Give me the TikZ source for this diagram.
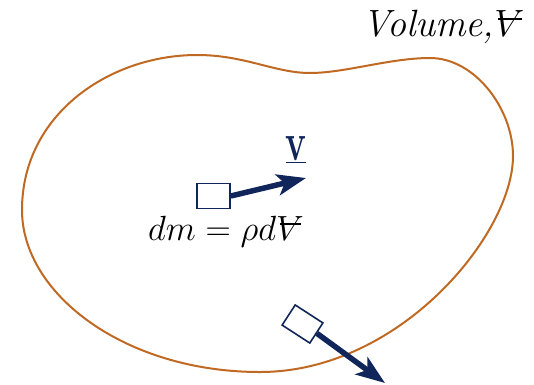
\RequirePackage{fix-cm}
\documentclass[tikz,border=0pt]{standalone}
\usepackage{fontspec}
\usetikzlibrary{arrows.meta}
\definecolor{outl}{RGB}{192,105,35}
\definecolor{navy}{RGB}{16,38,90}
\newcommand{\volV}{\mbox{\rlap{$V$}\kern0.1em\rule[0.43em]{0.62em}{0.05em}}}
\begin{document}
\begin{tikzpicture}[x=1pt,y=1pt,
  elem/.style={draw=navy, line width=1.6pt, fill=white, minimum width=33pt, minimum height=25pt, inner sep=0pt},
  vel/.style={draw=navy, line width=5.5pt, -{Stealth[length=29pt,width=21pt,inset=7pt]}},
  bnd/.style={draw=outl, line width=2pt},
  lbl/.style={inner sep=0pt, font=\fontsize{35}{40}\selectfont}]
\useasboundingbox (0,0) rectangle (534,384);
\draw[bnd] (197,329) .. controls (245,329) and (275,311) .. (310,311)
  .. controls (345,311) and (390,326) .. (430,326)
  .. controls (475,326) and (513,275) .. (513,228)
  .. controls (513,150) and (400,12) .. (260,12)
  .. controls (125,12) and (22,90) .. (22,174)
  .. controls (22,270) and (110,329) .. (197,329) -- cycle;
\node[elem] (e1) at (213.5,188) {};
\node[elem, minimum height=24pt, rotate=-33] (e2) at (302.5,60) {};
\coordinate (t1) at (306,206);
\coordinate (t2) at (385,1);
\draw[vel] (e1.east) -- (t1);
\draw[vel] (e2.east) -- (t2);
\node[lbl, anchor=base west, font=\fontsize{38}{44}\selectfont] (vol) at (362,348) {\itshape Volume,\volV};
\node[lbl, anchor=base west] (dm) at (148,144) {$dm = \rho d\volV$};
\node[lbl, text=navy, font=\fontsize{54}{60}\selectfont, xscale=0.65, transform shape] (v) at (296,234) {\underline{\textbf{v}}};
\end{tikzpicture}
\end{document}
